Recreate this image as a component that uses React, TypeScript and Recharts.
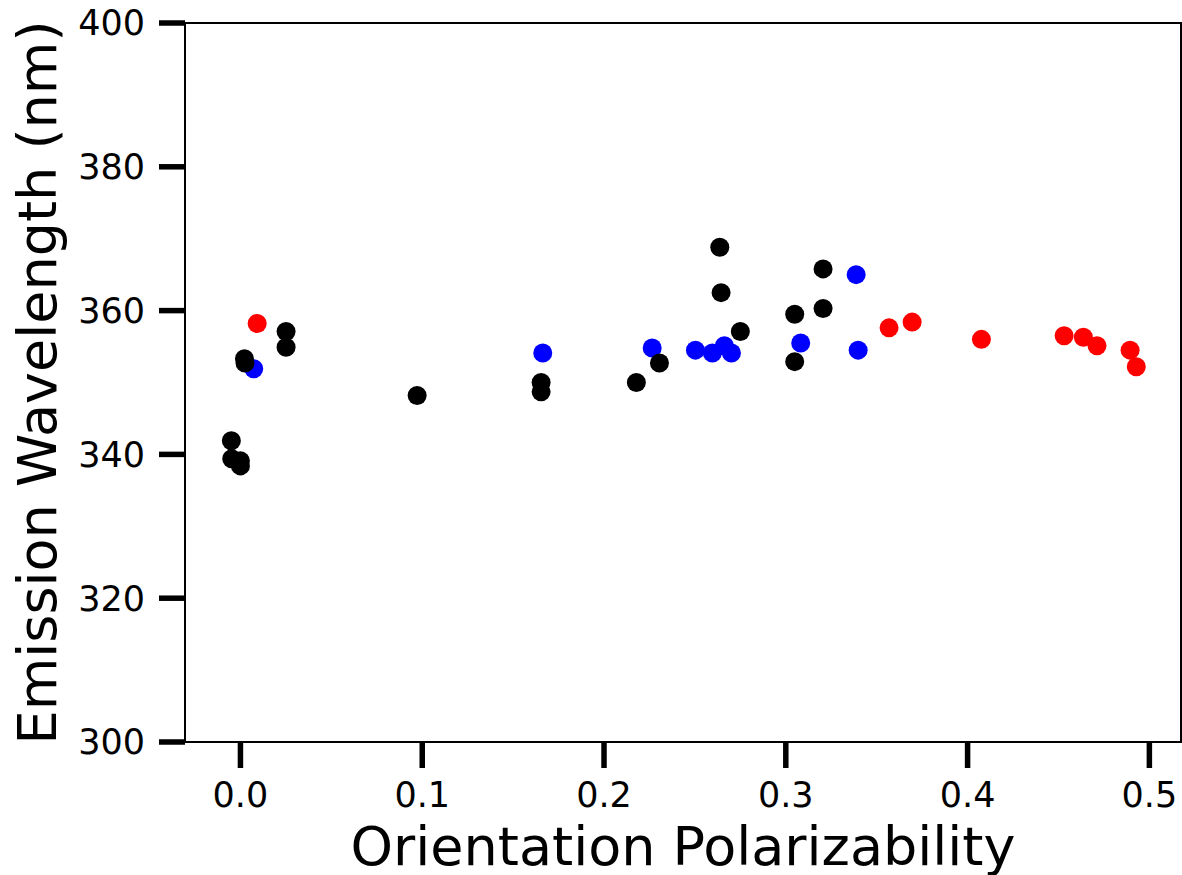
import React from 'react';
import {
  ScatterChart,
  Scatter,
  XAxis,
  YAxis,
  ReferenceArea
} from 'recharts';

// Orientation polarizability (x) vs emission wavelength in nm (y)
const blackX = [-0.005, -0.0048, 0.0, 0.0, 0.0022, 0.0025, 0.0251, 0.0251, 0.0972, 0.1654, 0.1654, 0.2178, 0.2305, 0.2637, 0.2644, 0.275, 0.3049, 0.3049, 0.3205, 0.3205];
const blackY = [341.9, 339.4, 339.1, 338.4, 353.3, 352.7, 357.1, 354.9, 348.2, 350.0, 348.7, 350.0, 352.7, 368.8, 362.5, 357.1, 359.5, 352.9, 365.8, 360.3];

const blueX = [0.0073, 0.1663, 0.2265, 0.2503, 0.2596, 0.2662, 0.2701, 0.3082, 0.3387, 0.3398];
const blueY = [351.9, 354.1, 354.8, 354.5, 354.1, 355.1, 354.1, 355.5, 365.0, 354.5];

const redX = [0.0092, 0.3568, 0.3695, 0.4076, 0.4531, 0.4637, 0.4712, 0.4894, 0.4928];
const redY = [358.2, 357.6, 358.4, 356.0, 356.5, 356.3, 355.1, 354.5, 352.2];

const xTicks = [0, 0.1, 0.2, 0.3, 0.4, 0.5];
const yTicks = [300, 320, 340, 360, 380, 400];
const xDomain = [-0.0305, 0.5174];
const yDomain = [300, 400];

const toPoints = (xs: number[], ys: number[]) => xs.map((x, i) => ({ x, y: ys[i] }));

const blackData = toPoints(blackX, blackY);
const blueData = toPoints(blueX, blueY);
const redData = toPoints(redX, redY);

const FONT = '"DejaVu Sans", sans-serif';

const Dot = (color: string) => (props: any) => (
  <circle cx={props.cx} cy={props.cy} r={9.5} fill={color} />
);

const XLabel = (props: any) => {
  const vb = props.viewBox;
  return (
    <text
      x={vb.x + vb.width / 2}
      y={865}
      textAnchor="middle"
      fontSize={54}
      fontFamily={FONT}
      fill="#000"
    >
      Orientation Polarizability
    </text>
  );
};

const YLabel = (props: any) => {
  const vb = props.viewBox;
  const cy = vb.y + vb.height / 2;
  return (
    <text
      x={56}
      y={cy}
      transform={`rotate(-90, 56, ${cy})`}
      textAnchor="middle"
      fontSize={54}
      fontFamily={FONT}
      fill="#000"
    >
      Emission Wavelength (nm)
    </text>
  );
};

export default function App() {
  const tickStyle = { fontSize: 35, fill: '#000', fontFamily: FONT };
  return (
    <div style={{ position: 'absolute', left: 0, top: 0, background: '#fff' }}>
      <ScatterChart
        width={1182}
        height={875}
        margin={{ top: 23, right: 1, left: 0, bottom: 0 }}
      >
        <XAxis
          type="number"
          dataKey="x"
          domain={xDomain}
          ticks={xTicks}
          allowDataOverflow
          tickFormatter={(v: number) => v.toFixed(1)}
          height={133}
          tickSize={26}
          tickMargin={14}
          tick={tickStyle}
          tickLine={{ stroke: '#000', strokeWidth: 5.5 }}
          axisLine={{ stroke: '#000', strokeWidth: 2 }}
          label={<XLabel />}
        />
        <YAxis
          type="number"
          dataKey="y"
          domain={yDomain}
          ticks={yTicks}
          allowDataOverflow
          width={185}
          tickSize={26}
          tickMargin={14}
          tick={tickStyle}
          tickLine={{ stroke: '#000', strokeWidth: 5.5 }}
          axisLine={{ stroke: '#000', strokeWidth: 2 }}
          label={<YLabel />}
        />
        <ReferenceArea
          x1={xDomain[0]}
          x2={xDomain[1]}
          y1={yDomain[0]}
          y2={yDomain[1]}
          fill="none"
          stroke="#000"
          strokeWidth={2}
          ifOverflow="visible"
        />
        <Scatter data={redData} fill="#ff0000" shape={Dot('#ff0000')} isAnimationActive={false} />
        <Scatter data={blueData} fill="#0000ff" shape={Dot('#0000ff')} isAnimationActive={false} />
        <Scatter data={blackData} fill="#000000" shape={Dot('#000000')} isAnimationActive={false} />
      </ScatterChart>
    </div>
  );
}
